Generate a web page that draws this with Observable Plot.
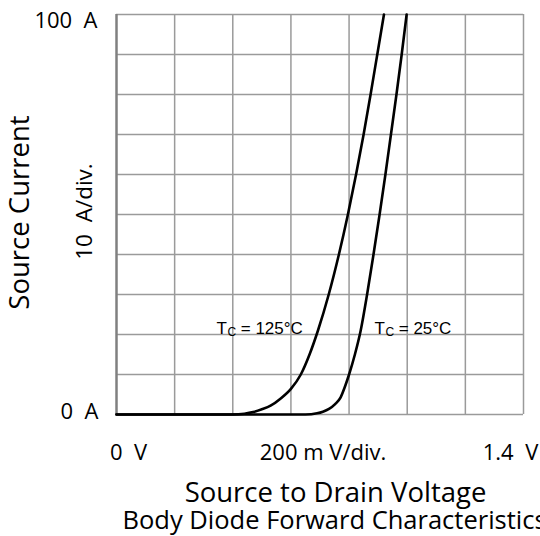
<!DOCTYPE html>
<html>
<head>
<meta charset="utf-8">
<script src="https://cdn.jsdelivr.net/npm/d3@7"></script>
<script src="https://cdn.jsdelivr.net/npm/@observablehq/plot@0.6"></script>
<style>
  html, body { margin: 0; padding: 0; background: #fff; overflow: hidden; }
</style>
</head>
<body>
<div id="chart"></div>
<script>
// Source-drain voltage (V) and source current (A), Tc = 125°C
const v125 = [0, 0.40, 0.44, 0.47, 0.50, 0.53, 0.565, 0.60, 0.634, 0.664, 0.693, 0.730, 0.765, 0.796, 0.824, 0.850, 0.874, 0.897, 0.920];
const i125 = [0, 0, 0.2, 0.6, 1.3, 2.2, 4.0, 6.4, 10, 15, 21, 30, 40, 50, 60, 70, 80, 90, 100];
// Tc = 25°C
const v25 = [0, 0.65, 0.69, 0.71, 0.731, 0.752, 0.771, 0.786, 0.800, 0.820, 0.840, 0.862, 0.884, 0.905, 0.925, 0.944, 0.963, 0.981, 0.998];
const i25 = [0, 0, 0.3, 0.7, 1.4, 2.6, 4.3, 7.0, 10, 15, 21, 30, 40, 50, 60, 70, 80, 90, 100];

// grid divisions
const xTicks = [0, 0.2, 0.4, 0.6, 0.8, 1.0, 1.2, 1.4];
const yTicks = [0, 10, 20, 30, 40, 50, 60, 70, 80, 90, 100];

// text
const yTopLabel = "100\u00a0\u00a0A";
const yBottomLabel = "0\u00a0\u00a0A";
const yDivLabel = "10\u00a0\u00a0A/div.";
const yTitle = "Source Current";
const xLeftLabel = "0\u00a0\u00a0V";
const xDivLabel = "200 m V/div.";
const xRightLabel = "1.4\u00a0\u00a0V";
const xTitle = "Source to Drain Voltage";
const caption = "Body Diode Forward Characteristics";

// curve labels: anchor (V, A), main letter, subscript, rest
const curveLabels = [
  {v: 0.344, a: 21.5, main: "T", sub: "C", rest: " = 125°C"},
  {v: 0.8875, a: 21.5, main: "T", sub: "C", rest: " = 25°C"}
];

const s125 = v125.map((v, i) => ({v, a: i125[i]}));
const s25 = v25.map((v, i) => ({v, a: i25[i]}));

const uiFont = "'Open Sans', 'Noto Sans', sans-serif";
const arialFont = "'Liberation Sans', Arial, sans-serif";

const chart = Plot.plot({
  width: 540,
  height: 536,
  marginLeft: 116,
  marginRight: 17,
  marginTop: 14,
  marginBottom: 122,
  style: {background: "#fff", overflow: "visible"},
  x: {domain: [0, 1.4], axis: null},
  y: {domain: [0, 100], axis: null},
  marks: [
    Plot.ruleX(xTicks.slice(1), {stroke: "#9a9a9a", strokeWidth: 1.5}),
    Plot.ruleY(yTicks, {stroke: "#9a9a9a", strokeWidth: 1.5}),
    Plot.ruleX([0], {stroke: "#808080", strokeWidth: 2.5}),
    Plot.line(s125, {x: "v", y: "a", stroke: "#000", strokeWidth: 2.6, curve: "monotone-x"}),
    Plot.line(s25, {x: "v", y: "a", stroke: "#000", strokeWidth: 2.6, curve: "monotone-x"}),
    // curve labels
    Plot.text(curveLabels, {x: "v", y: "a", text: "main", textAnchor: "start", fontSize: 17, fontFamily: arialFont, fill: "#000"}),
    Plot.text(curveLabels, {x: "v", y: "a", text: "sub", textAnchor: "start", dx: 11, dy: 4, fontSize: 12, fontFamily: arialFont, fill: "#000"}),
    Plot.text(curveLabels, {x: "v", y: "a", text: "rest", textAnchor: "start", dx: 19.5, fontSize: 17, fontFamily: arialFont, fill: "#000"}),
    // y labels
    Plot.text([yTopLabel], {x: () => 0, y: () => 100, text: d => d, textAnchor: "end", dx: -19, dy: 6, fontSize: 22, fontFamily: uiFont, fill: "#000"}),
    Plot.text([yBottomLabel], {x: () => 0, y: () => 0, text: d => d, textAnchor: "end", dx: -18, dy: -3, fontSize: 22, fontFamily: uiFont, fill: "#000"}),
    Plot.text([yDivLabel], {x: () => 0, y: () => 50, text: d => d, rotate: -90, dx: -32, dy: -3, fontSize: 22.5, fontFamily: uiFont, fill: "#000"}),
    Plot.text([yTitle], {x: () => 0, y: () => 50, text: d => d, rotate: -90, dx: -96, dy: -2, fontSize: 27.5, fontFamily: uiFont, fill: "#000"}),
    // x labels
    Plot.text([xLeftLabel], {x: () => 0, y: () => 0, text: d => d, dx: 12, dy: 38, fontSize: 22, fontFamily: uiFont, fill: "#000"}),
    Plot.text([xDivLabel], {x: () => 0.7, y: () => 0, text: d => d, dx: 3, dy: 38, fontSize: 22, fontFamily: uiFont, fill: "#000"}),
    Plot.text([xRightLabel], {x: () => 1.4, y: () => 0, text: d => d, dx: -13, dy: 38, fontSize: 22, fontFamily: uiFont, fill: "#000"}),
    Plot.text([xTitle], {x: () => 0.7, y: () => 0, text: d => d, dx: 15.5, dy: 79, fontSize: 27.5, fontFamily: uiFont, fill: "#000"}),
    Plot.text([caption], {x: () => 0, y: () => 0, text: d => d, textAnchor: "start", dx: 6, dy: 106, fontSize: 25.5, fontFamily: uiFont, fill: "#000"})
  ]
});

document.getElementById("chart").appendChild(chart);
</script>
</body>
</html>
